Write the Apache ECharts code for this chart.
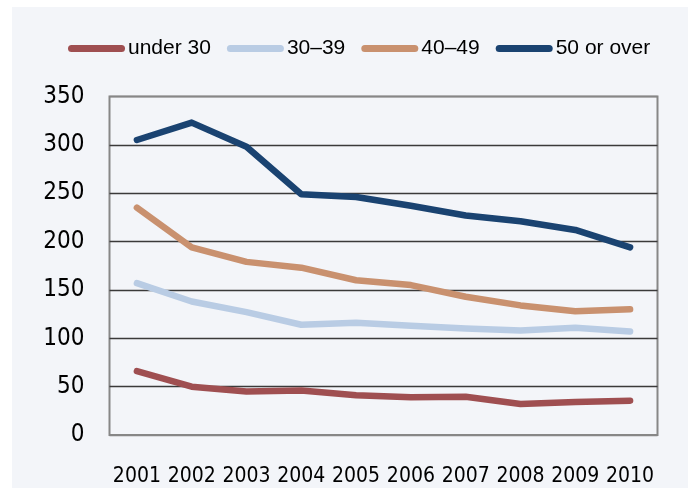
<!DOCTYPE html>
<html>
<head>
<meta charset="utf-8">
<script src="https://cdn.jsdelivr.net/npm/echarts@6/dist/echarts.min.js"></script>
<style>
  html, body { margin: 0; padding: 0; background: #ffffff; }
  #wrap { position: relative; width: 688px; height: 488px; background: #ffffff; overflow: hidden; }
  #chart { position: absolute; left: 12px; top: 7px; width: 676px; height: 481px; background: #f3f5f9; }
</style>
</head>
<body>
<div id="wrap"><div id="chart"></div></div>
<script>
// Years on the horizontal axis
const years = ['2001', '2002', '2003', '2004', '2005', '2006', '2007', '2008', '2009', '2010'];

// Series values by age group
const under30 = [66, 50, 45, 46, 41, 39, 39.5, 32, 34, 35.5];
const age30to39 = [157, 138, 127, 114, 116, 113, 110, 108, 111, 107];
const age40to49 = [235, 194, 179, 173, 160, 155, 143, 134, 128, 130];
const age50plus = [305, 323, 298, 249, 246, 237, 227, 221, 212, 194];

const seriesNames = ['under 30', '30\u201339', '40\u201349', '50 or over'];
const seriesColors = ['#9f4f51', '#b9cce4', '#c9916f', '#1a4371'];

const chart = echarts.init(document.getElementById('chart'), null, { renderer: 'canvas' });

const axisFont = "'DejaVu Sans Condensed', 'DejaVu Sans', sans-serif";
const pill = 'path://M3.5,0 H53.5 A3.5,3.5 0 0 1 53.5,7 H3.5 A3.5,3.5 0 0 1 3.5,0 Z';

function lineSeries(name, data, color) {
  return {
    name: name,
    type: 'line',
    data: data,
    symbol: 'none',
    smooth: false,
    lineStyle: { color: color, width: 6.5, cap: 'round', join: 'round' },
    itemStyle: { color: color },
    emphasis: { disabled: true }
  };
}

chart.setOption({
  animation: false,
  backgroundColor: 'transparent',
  legend: {
    left: 51,
    top: 26,
    itemWidth: 57,
    itemHeight: 7,
    itemGap: 16,
    icon: pill,
    textStyle: {
      fontFamily: "'Liberation Sans', Arial, sans-serif",
      fontSize: 21,
      color: '#000000',
      padding: [0, 0, 0, -2]
    },
    data: seriesNames
  },
  grid: {
    left: 97.5,
    right: 30.5,
    top: 89.5,
    bottom: 53,
    show: true,
    borderColor: '#878787',
    borderWidth: 2,
    backgroundColor: 'transparent'
  },
  xAxis: {
    type: 'category',
    data: years,
    boundaryGap: true,
    axisLine: { show: false },
    axisTick: { show: false },
    axisLabel: {
      margin: 31,
      fontFamily: axisFont,
      fontSize: 21,
      color: '#000000',
      interval: 0
    },
    splitLine: { show: false }
  },
  yAxis: {
    type: 'value',
    min: 0,
    max: 350,
    interval: 50,
    axisLine: { show: false },
    axisTick: { show: false },
    axisLabel: {
      margin: 25,
      fontFamily: axisFont,
      fontSize: 24,
      color: '#000000'
    },
    splitLine: {
      show: true,
      lineStyle: {
        color: ['#878787', '#3a3a3a', '#3a3a3a', '#3a3a3a', '#3a3a3a', '#3a3a3a', '#3a3a3a', '#878787'],
        width: 1.3
      }
    }
  },
  series: [
    lineSeries(seriesNames[0], under30, seriesColors[0]),
    lineSeries(seriesNames[1], age30to39, seriesColors[1]),
    lineSeries(seriesNames[2], age40to49, seriesColors[2]),
    lineSeries(seriesNames[3], age50plus, seriesColors[3])
  ]
});
</script>
</body>
</html>
